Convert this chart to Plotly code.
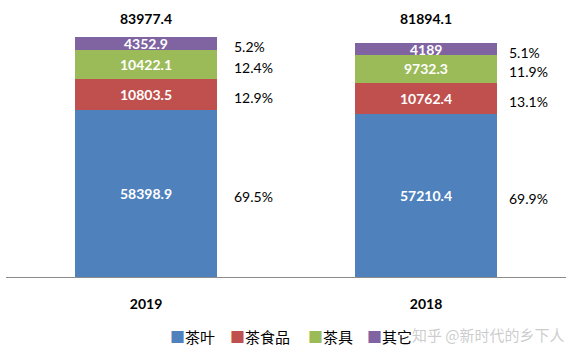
import plotly.graph_objects as go

years = ["2019", "2018"]
series_names = ["茶叶", "茶食品", "茶具", "其它"]
tea = [58398.9, 57210.4]
tea_food = [10803.5, 10762.4]
tea_ware = [10422.1, 9732.3]
other = [4352.9, 4189]
totals = [83977.4, 81894.1]
pct_tea = ["69.5%", "69.9%"]
pct_food = ["12.9%", "13.1%"]
pct_ware = ["12.4%", "11.9%"]
pct_other = ["5.2%", "5.1%"]
value_labels = [["58398.9", "57210.4"], ["10803.5", "10762.4"], ["10422.1", "9732.3"], ["4352.9", "4189"]]

colors = ["#4F81BD", "#C0504D", "#9BBB59", "#8064A2"]
series_vals = [tea, tea_food, tea_ware, other]
series_pcts = [pct_tea, pct_food, pct_ware, pct_other]

FONT = "Lato, 'Open Sans', sans-serif"
CJK = "'Noto Sans CJK SC', sans-serif"
BAR_W = 0.507
PCT_XSHIFT = [15, 10]

W, H = 571, 352
ml, mr, mt, mb = 6, 5, 5, 75
pw, ph = W - ml - mr, H - mt - mb


def px_to_paper(x, y):
    return (x - ml) / pw, (H - mb - y) / ph


fig = go.Figure()
xs = [0, 1]
for name, vals, col in zip(series_names, series_vals, colors):
    fig.add_trace(go.Bar(x=xs, y=vals, name=name, marker=dict(color=col, line=dict(width=0)),
                         width=BAR_W, showlegend=False, hoverinfo="skip"))

for i in range(2):
    base = 0
    for s in range(4):
        v = series_vals[s][i]
        mid = base + v / 2
        fig.add_annotation(x=xs[i], y=mid, xref="x", yref="y", text="<b>%s</b>" % value_labels[s][i],
                           showarrow=False, font=dict(family=FONT, size=14, color="white"),
                           xanchor="center", yanchor="middle")
        fig.add_annotation(x=xs[i] + BAR_W / 2, y=mid, xref="x", yref="y", text=series_pcts[s][i],
                           showarrow=False, font=dict(family=FONT, size=14, color="black"),
                           xanchor="left", yanchor="middle", xshift=PCT_XSHIFT[i], yshift=-3)
        base += v
    _, ty = px_to_paper(0, 18)
    fig.add_annotation(x=xs[i], y=ty, xref="x", yref="paper", text="<b>%s</b>" % totals[i],
                       showarrow=False, font=dict(family=FONT, size=14, color="black"),
                       xanchor="center", yanchor="middle")

# legend built from annotations
leg_x = [168, 228, 306, 365]
for name, col, lx in zip(series_names, colors, leg_x):
    px, py = px_to_paper(lx, 336)
    fig.add_annotation(x=px, y=py, xref="paper", yref="paper",
                       text='<span style="color:%s">■</span>%s' % (col, name),
                       showarrow=False, xanchor="left", yanchor="middle",
                       font=dict(family=CJK, size=15, color="black"))

wx, wy = px_to_paper(410, 334)
fig.add_annotation(x=wx, y=wy, xref="paper", yref="paper", text="知乎 @新时代的乡下人",
                   showarrow=False, xanchor="left", yanchor="middle",
                   font=dict(family=CJK, size=15, color="rgba(170,170,170,0.6)"))

fig.update_layout(
    barmode="stack",
    width=W, height=H,
    margin=dict(l=ml, r=mr, t=mt, b=mb),
    plot_bgcolor="white", paper_bgcolor="white",
    xaxis=dict(range=[-0.5, 1.5], tickvals=xs, ticktext=["<b>%s</b>" % y for y in years],
               showgrid=False, zeroline=False, showline=True, linecolor="#8C8C8C", linewidth=1,
               ticks="", ticklabelstandoff=14, tickfont=dict(family=FONT, size=14, color="black"),
               fixedrange=True),
    yaxis=dict(range=[0, 95200], visible=False, showgrid=False, zeroline=False, fixedrange=True),
    bargap=0,
)

fig.write_html("out.html")
